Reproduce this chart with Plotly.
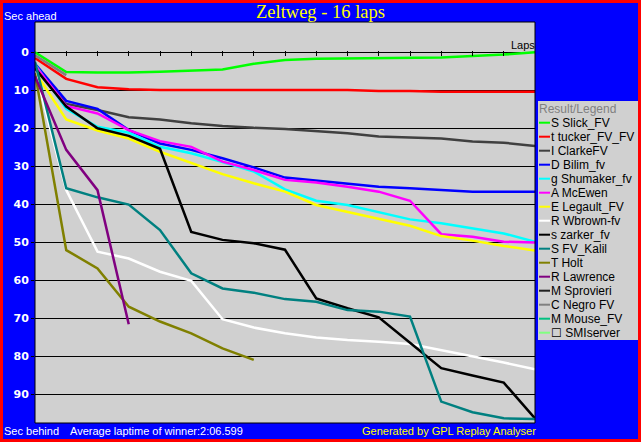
import plotly.graph_objects as go

# ---------------- data ----------------
laps = list(range(17))

names = ["S Slick_FV", "t tucker_FV_FV", "I ClarkeFV", "D Bilim_fv", "g Shumaker_fv",
         "A McEwen", "E Legault_FV", "R Wbrown-fv", "s zarker_fv", "S FV_Kalil",
         "T Holt", "R Lawrence", "M Sprovieri", "C Negro FV", "M Mouse_FV", "\u2610 SMIserver"]

colors = ["#00FF00", "#FF0000", "#404040", "#0000FF", "#00FFFF",
          "#FF00FF", "#FFFF00", "#FFFFFF", "#000000", "#008080",
          "#808000", "#800080", "#202020", "#808080", "#00C080", "#80FF80"]

slick     = [0, 5.2, 5.3, 5.3, 5.1, 4.7, 4.5, 3.0, 2.0, 1.7, 1.6, 1.4, 1.4, 1.4, 1.0, 0.6, 0.0]
tucker    = [1.5, 7.0, 9.2, 9.7, 9.9, 9.9, 9.9, 9.9, 9.9, 9.9, 9.9, 10.2, 10.2, 10.4, 10.4, 10.4, 10.4]
clarke    = [4.0, 13.6, 15.2, 17.1, 17.7, 18.7, 19.4, 19.9, 20.2, 20.7, 21.3, 22.2, 22.5, 22.7, 23.5, 23.8, 24.7]
bilim     = [3.0, 12.8, 14.9, 20.5, 24.0, 25.7, 27.9, 30.3, 33.0, 33.8, 34.7, 35.4, 35.8, 36.3, 36.7, 36.7, 36.7]
shumaker  = [3.2, 14.9, 19.6, 21.2, 24.9, 26.6, 28.9, 31.4, 36.1, 39.1, 40.2, 42.2, 44.0, 45.0, 46.4, 47.7, 49.9]
mcewen    = [3.5, 14.1, 16.1, 20.5, 23.4, 24.9, 28.8, 31.0, 33.6, 34.3, 35.4, 36.7, 39.1, 47.9, 48.6, 49.9, 50.1]
legault   = [5.2, 17.7, 20.6, 22.7, 26.2, 29.2, 32.1, 34.5, 36.7, 40.2, 42.0, 43.7, 45.7, 48.4, 49.6, 51.0, 52.2]
wbrown    = [4.8, 36.3, 52.5, 54.3, 57.8, 60.2, 70.3, 72.5, 74.0, 75.1, 75.8, 76.2, 76.8, 78.4, 80.0, 81.7, 83.5]
zarker    = [4.2, 14.3, 20.0, 22.0, 25.4, 47.3, 49.4, 50.3, 52.0, 64.8, 67.4, 69.8, 76.5, 83.2, 85.1, 87.0, 96.4]
kalil     = [2.5, 35.8, 38.2, 40.1, 46.8, 58.2, 62.2, 63.3, 65.0, 65.7, 67.9, 68.3, 69.6, 92.0, 94.8, 96.4, 96.6]
holt      = [5.5, 52.1, 56.9, 67.0, 70.9, 74.0, 78.0, 81.0]
lawrence  = [6.3, 25.7, 36.3, 71.6]
sprovieri = [4.5]
negro     = [0.8, 6.0]
mouse     = [2.0]
smiserver = []

series = [slick, tucker, clarke, bilim, shumaker, mcewen, legault, wbrown,
          zarker, kalil, holt, lawrence, sprovieri, negro, mouse, smiserver]

y_ticks = list(range(0, 100, 10))
x_ticks = list(range(1, 16))

# ---------------- layout geometry ----------------
W, H = 641, 442
L, R, T, B = 35, 535, 22, 423


def px(x):
    return (x - L) / (R - L)


def py(y):
    return (B - y) / (B - T)


fig = go.Figure()
for name, col, vals in zip(names, colors, series):
    fig.add_trace(go.Scatter(x=laps[:len(vals)], y=vals, mode="lines", name=name,
                             line=dict(color=col, width=2.5), showlegend=False,
                             hoverinfo="skip"))

shapes = []
# plot frame
shapes.append(dict(type="rect", xref="paper", yref="paper", x0=0, x1=1, y0=0, y1=1,
                   line=dict(color="black", width=1), layer="above"))
# legend box
shapes.append(dict(type="rect", xref="paper", yref="paper", x0=px(538), x1=px(638),
                   y0=py(340), y1=py(101), fillcolor="#D0D0D0", line=dict(width=0),
                   layer="above"))
# red outer border
shapes.append(dict(type="rect", xref="paper", yref="paper", x0=px(1.5), x1=px(639.5),
                   y0=py(440.5), y1=py(1.5), line=dict(color="#FF0000", width=3),
                   layer="above"))

annotations = []
sans = "Liberation Sans"
annotations.append(dict(text="Result/Legend", x=px(539), y=py(108.5), xref="paper", yref="paper",
                        xanchor="left", yanchor="middle", showarrow=False, borderpad=0, borderwidth=0,
                        font=dict(family=sans, size=12, color="#808080")))
for i, (name, col) in enumerate(zip(names, colors)):
    yy = 122.7 + 14 * i
    shapes.append(dict(type="line", xref="paper", yref="paper", x0=px(539), x1=px(550),
                       y0=py(yy), y1=py(yy), line=dict(color=col, width=2), layer="above"))
    annotations.append(dict(text=name, x=px(551), y=py(yy), xref="paper", yref="paper",
                            xanchor="left", yanchor="middle", showarrow=False,
                            borderpad=0, borderwidth=0,
                            font=dict(family=sans, size=12, color="black")))

def txt(text, x, y, anchor, color, size, family=sans):
    annotations.append(dict(text=text, x=px(x), y=py(y), xref="paper", yref="paper",
                            xanchor=anchor, yanchor="middle", showarrow=False,
                            borderpad=0, borderwidth=0,
                            font=dict(family=family, size=size, color=color)))

txt("Zeltweg - 16 laps", 320.7, 12, "center", "#FFFF00", 18.5, "Liberation Serif")
txt("Sec ahead", 4, 16, "left", "white", 11)
txt("Sec behind", 4, 431, "left", "white", 11)
txt("Average laptime of winner:2:06.599", 70, 431, "left", "white", 11)
txt("Generated by GPL Replay Analyser", 535.6, 431, "right", "#FFFF00", 11)
txt("Laps", 535, 45.5, "right", "black", 11)

fig.update_layout(
    width=W, height=H, autosize=False,
    margin=dict(l=L, r=W - R, t=T, b=H - B, pad=0),
    paper_bgcolor="#0000FF", plot_bgcolor="#D0D0D0",
    shapes=shapes, annotations=annotations,
    xaxis=dict(range=[0, 16], tickvals=x_ticks, ticks="outside", ticklen=5, tickwidth=1,
               tickcolor="black", showticklabels=False, showgrid=False, zeroline=False,
               showline=False, anchor="free", position=py(49.8), fixedrange=True),
    yaxis=dict(range=[97.63, -7.98], tickvals=y_ticks, ticktext=[str(v) for v in y_ticks],
               ticks="outside", ticklen=3, tickwidth=1, tickcolor="black",
               showgrid=True, gridcolor="black", gridwidth=1, zeroline=False, showline=False,
               tickfont=dict(family="DejaVu Sans", size=11, color="white", weight="bold"),
               fixedrange=True),
    showlegend=False,
)

fig.write_html("out.html", config={"displayModeBar": False, "staticPlot": True},
               post_script="document.body.style.margin='0';document.body.style.overflow='hidden';")
